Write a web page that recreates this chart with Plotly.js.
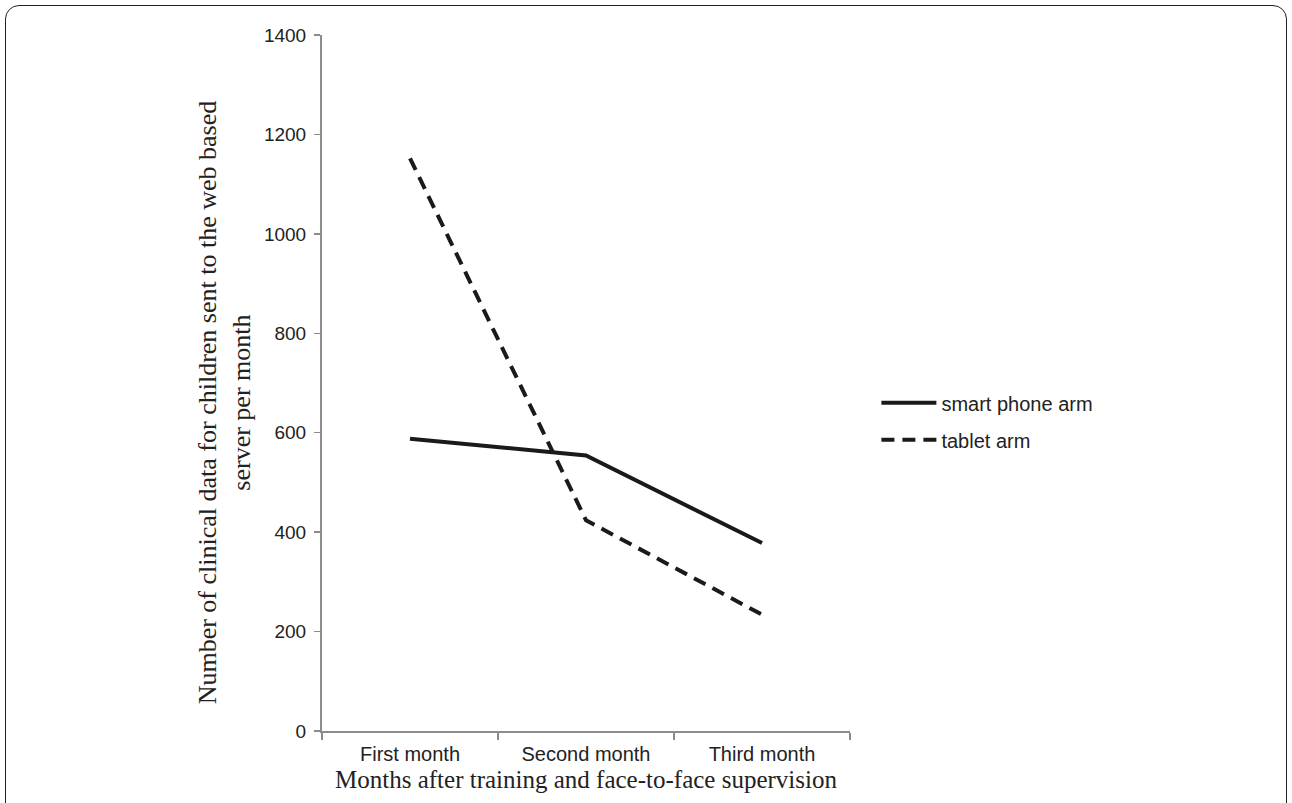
<!DOCTYPE html>
<html><head><meta charset="utf-8">
<script src="https://cdn.plot.ly/plotly-3.0.1.min.js"></script>
<style>
html,body{margin:0;padding:0;background:#fff;overflow:hidden;}
#frame{position:absolute;left:5px;top:5px;width:1280px;height:830px;border:1.5px solid #222;border-radius:14px;pointer-events:none;z-index:5;}
#chart{position:absolute;left:0;top:0;width:1292px;height:803px;}
</style></head>
<body>
<div id="chart"></div><div id="frame"></div>
<script>
const months = ["First month", "Second month", "Third month"];
const smartPhone = [588, 554, 378];
const tablet = [1152, 424, 234];
const yTicks = [0, 200, 400, 600, 800, 1000, 1200, 1400];
const yTitle = "Number of clinical data for children sent to the web based<br>server per month";
const xTitle = "Months after training and face-to-face supervision";

const traces = [
  {x: months, y: smartPhone, name: "smart phone arm", type: "scatter", mode: "lines", legendgroup: "a",
   line: {color: "#1a1a1a", width: 4}},
  {x: months, y: tablet, name: "tablet arm", type: "scatter", mode: "lines", legendgroup: "b",
   line: {color: "#1a1a1a", width: 4, dash: "13px,8px"}}
];
const layout = {
  width: 1292, height: 803,
  margin: {l: 322, r: 442, t: 35, b: 72},
  paper_bgcolor: "rgba(0,0,0,0)", plot_bgcolor: "rgba(0,0,0,0)",
  showlegend: true,
  legend: {x: 1.05, y: 0.445, xanchor: "left", yanchor: "middle", itemwidth: 55,
    font: {family: "Liberation Sans, Arial, sans-serif", size: 20, color: "#222"},
    tracegroupgap: 8, bgcolor: "rgba(0,0,0,0)"},
  xaxis: {type: "category", showline: true, linecolor: "#8c8c8c", linewidth: 2,
    ticks: "outside", tickson: "boundaries", ticklen: 7, tickcolor: "#8c8c8c", tickwidth: 1.5,
    showgrid: false, zeroline: false, range: [-0.5, 2.5], ticklabelstandoff: 4,
    tickfont: {family: "Liberation Sans, Arial, sans-serif", size: 20, color: "#222"},
    title: {text: xTitle, standoff: 6,
      font: {family: "Liberation Serif, Times New Roman, serif", size: 25, color: "#222"}}},
  yaxis: {range: [0, 1400], tickvals: yTicks, showline: true, linecolor: "#8c8c8c", linewidth: 2,
    ticks: "outside", ticklen: 6, tickcolor: "#8c8c8c", tickwidth: 1.5,
    showgrid: false, zeroline: false, ticklabelstandoff: 4,
    tickfont: {family: "Liberation Sans, Arial, sans-serif", size: 19, color: "#222"}},
  annotations: [{text: yTitle, xref: "paper", yref: "paper", x: -0.184, y: 0.472,
    xanchor: "center", yanchor: "middle", textangle: -90, showarrow: false,
    font: {family: "Liberation Serif, Times New Roman, serif", size: 26, color: "#222"}}]
};
Plotly.newPlot("chart", traces, layout, {displayModeBar: false, staticPlot: true});
</script>
</body></html>
